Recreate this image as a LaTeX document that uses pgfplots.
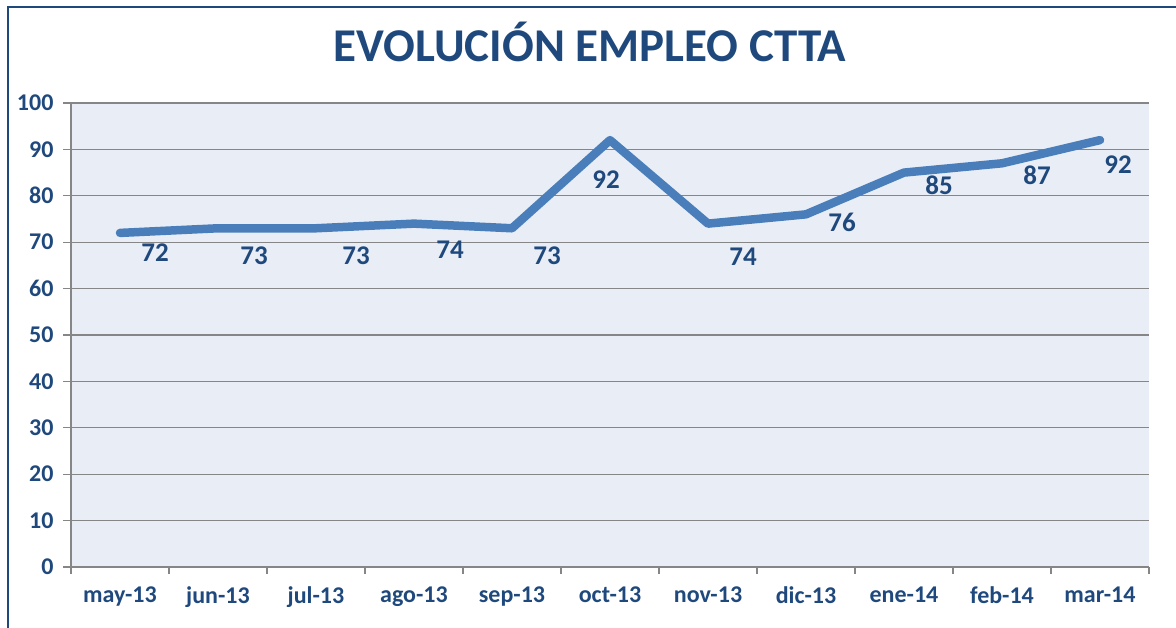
\documentclass[border=0pt]{standalone}
\usepackage{pgfplots}
\pgfplotsset{compat=1.18}
\usepackage{pgfplotstable}
\usepackage{fontspec}
\setmainfont{Carlito}
\definecolor{titleblue}{RGB}{31,73,125}
\definecolor{lineblue}{RGB}{74,126,187}
\definecolor{bgblue}{RGB}{233,238,246}
\definecolor{gridgray}{RGB}{134,134,134}
\pgfplotstableread{
x y dx dy
0 72 35 -20
1 73 36 -27
2 73 40 -27
3 74 36 -26
4 73 35 -27
5 92 -4 -40
6 74 35 -33
7 76 36 -8
8 85 35 -13
9 87 35 -12
10 92 18 -25
}\data
\begin{document}
\begin{tikzpicture}[x=1pt,y=1pt]
\path[use as bounding box] (0,0) rectangle (1176,628);
\draw[titleblue, line width=1.6pt] (8,-5) -- (8,621) -- (1185,621);
\node[titleblue, font=\fontsize{47}{50}\selectfont\bfseries, anchor=center] at (590,586) {EVOLUCIÓN EMPLEO CTTA};
\begin{axis}[
  at={(71pt,61pt)}, anchor=south west,
  scale only axis, width=1078pt, height=464pt,
  xmin=-0.5, xmax=10.5, ymin=0, ymax=100,
  /pgf/number format/assume math mode=true,
  axis x line*=bottom, axis y line*=left,
  axis line style={gridgray, line width=1.2pt},
  axis background/.style={fill=bgblue},
  ytick={0,10,...,100},
  ymajorgrids, grid style={gridgray, line width=1.2pt},
  xtick={0,...,10},
  xticklabels={may-13,jun-13,jul-13,ago-13,sep-13,oct-13,nov-13,dic-13,ene-14,feb-14,mar-14},
  minor xtick={-0.5,0.5,...,10.5},
  tick align=outside,
  major x tick style={draw=none},
  minor x tick style={gridgray, line width=1.2pt},
  minor tick length=7pt,
  y tick style={gridgray, line width=1.2pt},
  major tick length=8pt,
  tick label style={font=\fontsize{24}{26}\selectfont\bfseries, text=titleblue},
  xticklabel style={yshift=-8pt},
  yticklabel style={xshift=-6pt},
  clip=false,
]
\addplot[lineblue, line width=8.5pt, line join=round, line cap=round,
  nodes near coords,
  visualization depends on={\thisrow{dx} \as \dx},
  visualization depends on={\thisrow{dy} \as \dy},
  every node near coord/.append style={anchor=center, xshift=\dx pt, yshift=\dy pt,
     font=\fontsize{27}{29}\selectfont\bfseries, text=titleblue, inner sep=0pt},
] table[x=x,y=y]{\data};
\end{axis}
\end{tikzpicture}
\end{document}
